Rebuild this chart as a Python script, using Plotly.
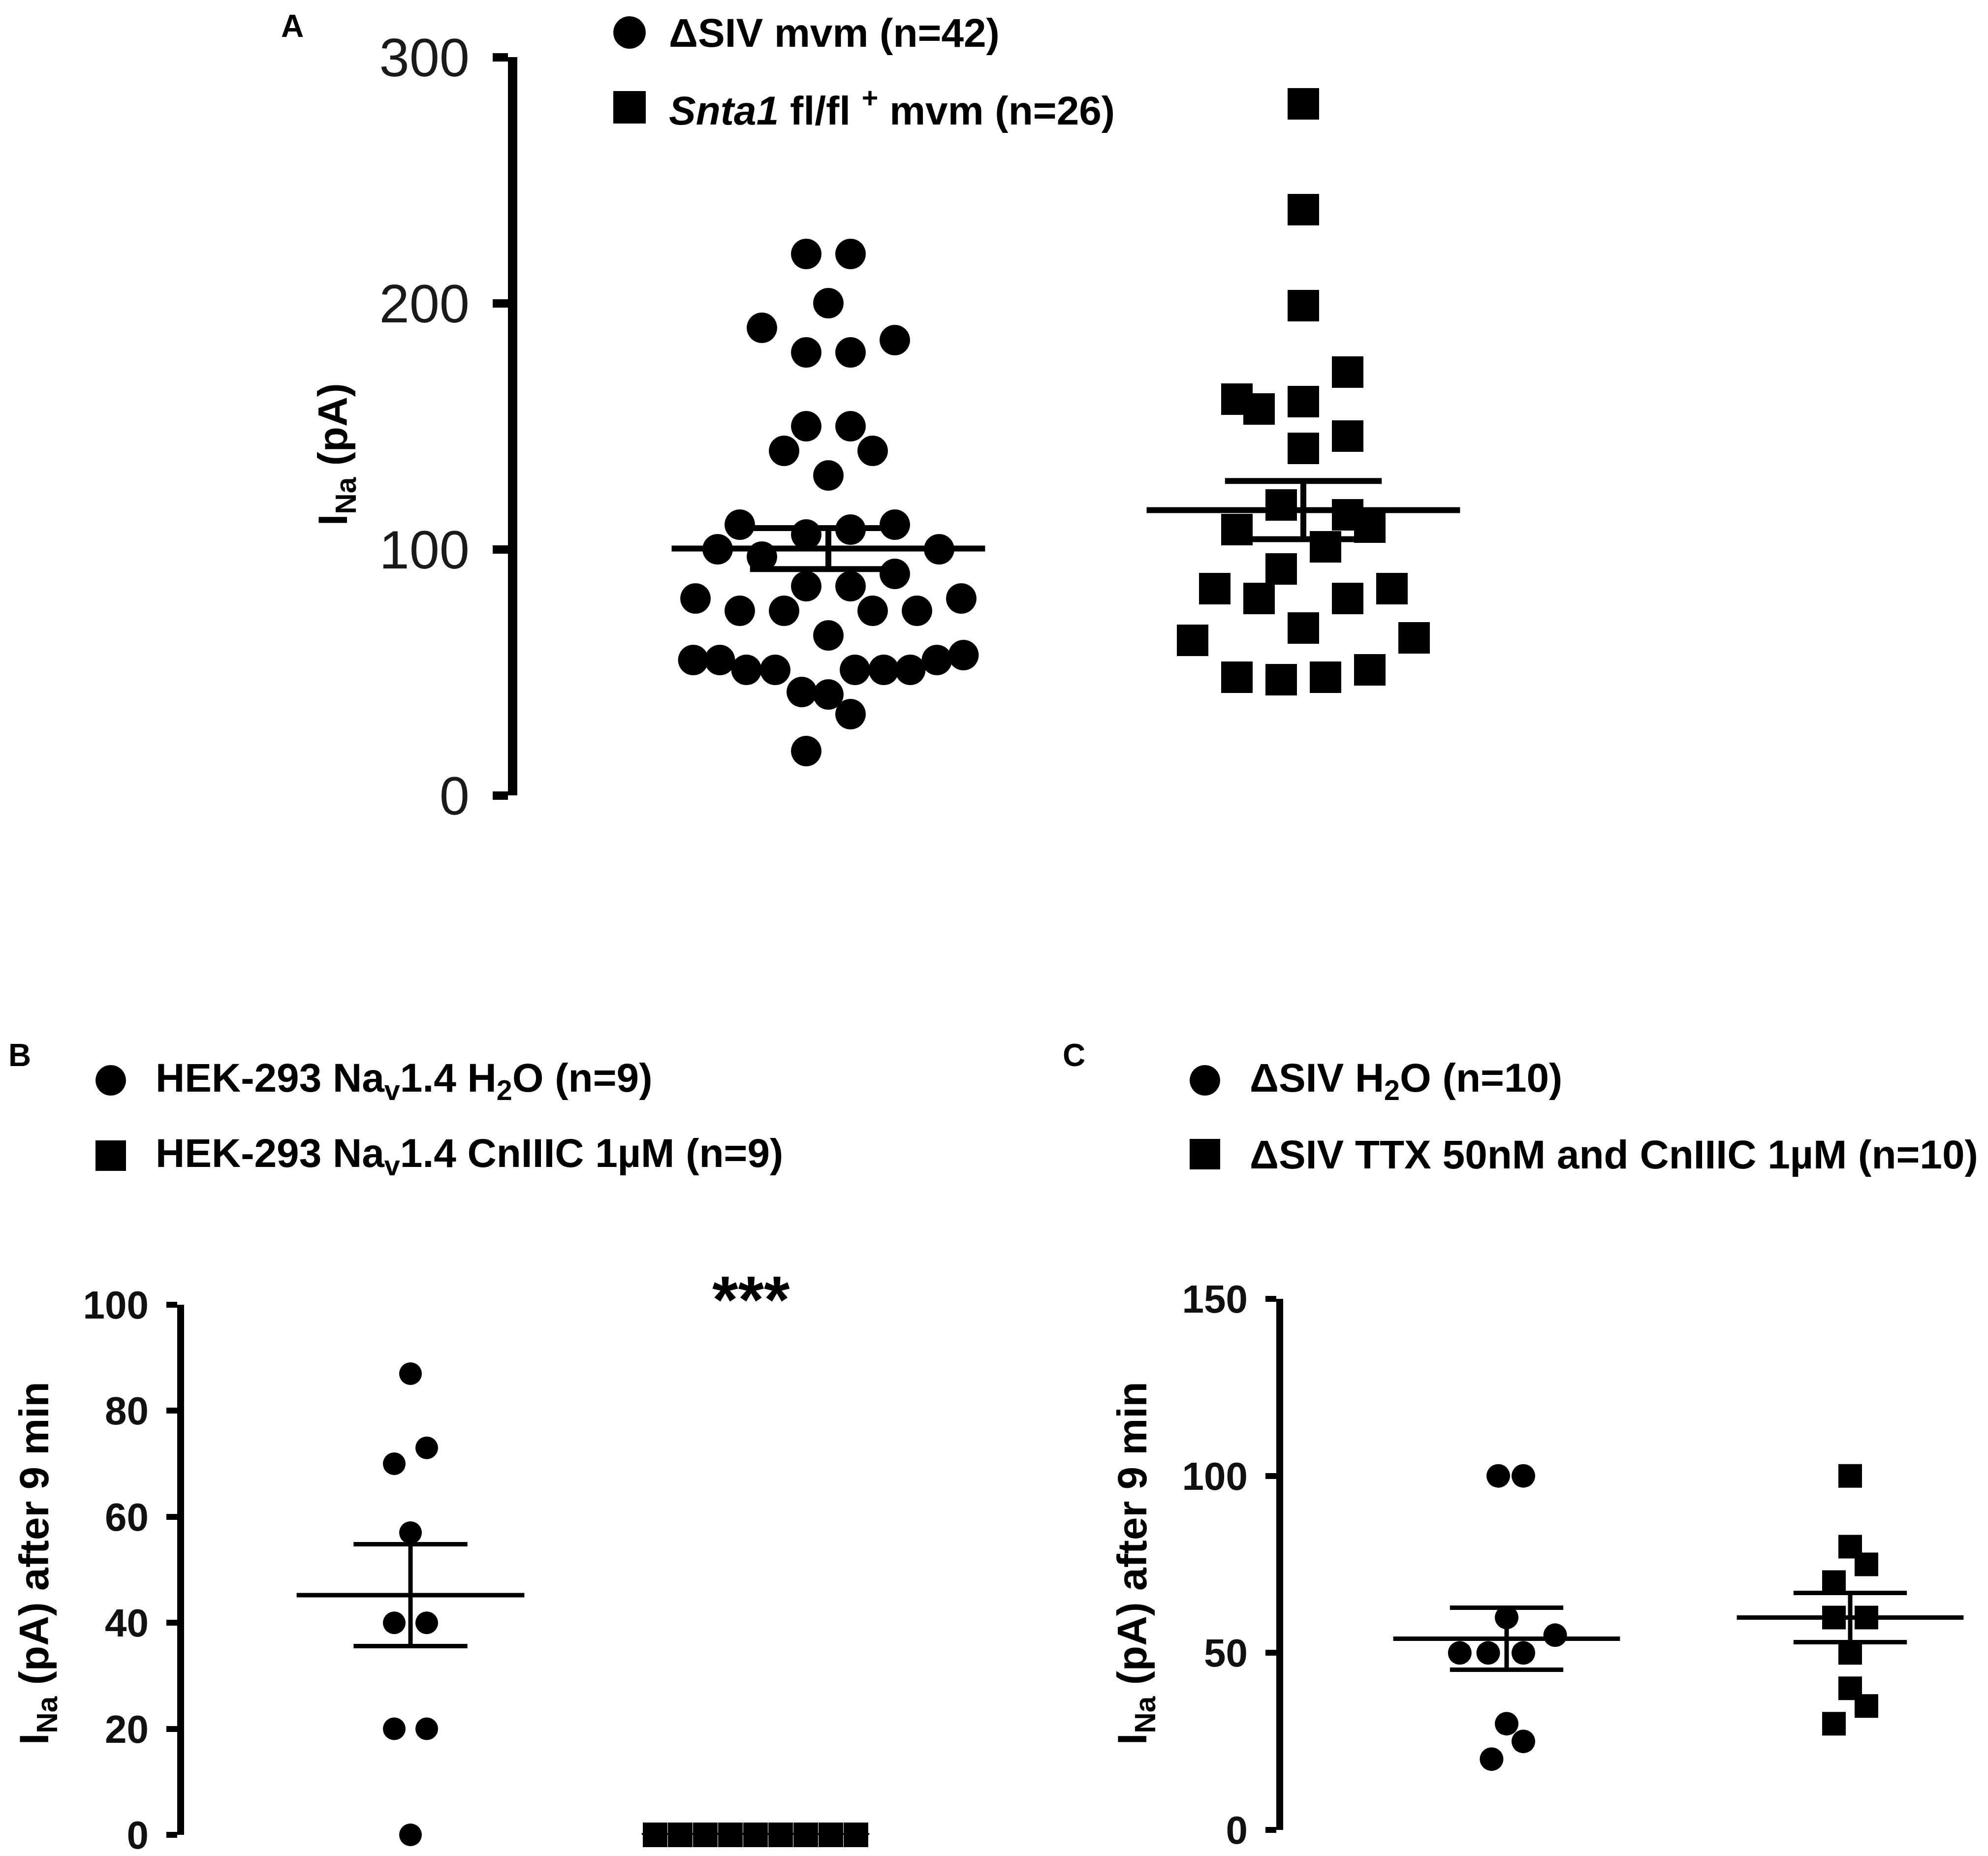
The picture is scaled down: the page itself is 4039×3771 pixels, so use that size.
import numpy as np
import plotly.graph_objects as go

W, H = 4039, 3771
FONT = "Liberation Sans, Arial, sans-serif"

# ---- data -------------------------------------------------------------
# Panel A: INa (pA); offsets are the scatter jitter in marker steps
A_CIRCLE_VALUES = [220, 220, 200, 190, 185, 180, 180, 150, 150, 140, 140, 130,
                   110, 110, 106, 108, 100, 100, 97, 90, 85, 85, 80, 80,
                   75, 75, 75, 75, 65, 55, 55, 55, 57, 51, 51, 51, 51, 51,
                   42, 41, 33, 18]
A_CIRCLE_OFFSETS = [-1, 1, 0, -3, 3, -1, 1, -1, 1, -2, 2, 0,
                    -4, 3, -1, 1, -5, 5, -3, 3, -1, 1, -6, 6,
                    -4, -2, 2, 4, 0, -6.1, -4.9, 4.9, 6.1, -3.7, -2.4, 1.2, 2.5, 3.7,
                    -1.2, 0, 1, -1]
A_SQUARE_VALUES = [281, 238, 199, 172, 161, 157, 160, 146, 141, 118, 114, 109, 108,
                   101, 92, 84, 84, 80, 80, 68, 63, 64, 48, 48, 47, 51]
A_SQUARE_OFFSETS = [0, 0, 0, 2, -3, -2, 0, 2, 0, -1, 2, 3, -3,
                    1, -1, -4, 4, -2, 2, 0, -5, 5, -3, 1, -1, 3]

# Panel B: INa (pA) after 9 min
B_CIRCLE_VALUES = [87, 73, 70, 57, 40, 40, 20, 20, 0]
B_CIRCLE_OFFSETS = [0, 1, -1, 0, -1, 1, -1, 1, 0]
B_SQUARE_VALUES = [0, 0, 0, 0, 0, 0, 0, 0, 0]
B_SQUARE_OFFSETS = [-4, -3, -2, -1, 0, 1, 2, 3, 4]

# Panel C: INa (pA) after 9 min
C_CIRCLE_VALUES = [100, 100, 60, 55, 50, 50, 50, 30, 25, 20]
C_CIRCLE_OFFSETS = [-0.5, 1, 0, 2.9, -2.8, -1.1, 1, 0, 1, -0.9]
C_SQUARE_VALUES = [100, 80, 75, 70, 60, 60, 50, 40, 35, 30]
C_SQUARE_OFFSETS = [0, 0, 1, -1, -1, 1, 0, 0, 1, -1]

A_TICKS = [0, 100, 200, 300]
B_TICKS = [0, 20, 40, 60, 80, 100]
C_TICKS = [0, 50, 100, 150]

A_LEGEND = ["ΔSIV mvm (n=42)", "<i>Snta1</i> fl/fl <sup>+</sup> mvm (n=26)"]
B_LEGEND = ["HEK-293 Na<sub>v</sub>1.4 H<sub>2</sub>O (n=9)",
            "HEK-293 Na<sub>v</sub>1.4 CnIIIC 1µM (n=9)"]
C_LEGEND = ["ΔSIV H<sub>2</sub>O (n=10)",
            "ΔSIV TTX 50nM and CnIIIC 1µM (n=10)"]


def fx(px):
    return px / W


def fy(py):
    return 1 - py / H


def x_range(axis_px, pos1_px, pos2_px, right_px):
    unit = pos2_px - pos1_px
    return [1 - (pos1_px - axis_px) / unit, 2 + (right_px - pos2_px) / unit]


def mean_sem_trace(values, pos, xa, ya, width):
    v = np.asarray(values, dtype=float)
    m = v.mean()
    s = v.std(ddof=1) / np.sqrt(len(v)) if len(v) > 1 else 0.0
    half, cap = 0.33, 0.165
    xs = [pos - half, pos + half, None,
          pos, pos, None,
          pos - cap, pos + cap, None,
          pos - cap, pos + cap]
    ys = [m, m, None,
          m - s, m + s, None,
          m + s, m + s, None,
          m - s, m - s]
    return go.Scatter(x=xs, y=ys, mode="lines", xaxis=xa, yaxis=ya,
                      line=dict(color="black", width=width),
                      hoverinfo="skip", showlegend=False, cliponaxis=False)


def points_trace(values, offsets, pos, step, symbol, size, xa, ya):
    xs = [pos + o * step for o in offsets]
    return go.Scatter(x=xs, y=values, mode="markers", xaxis=xa, yaxis=ya,
                      marker=dict(symbol=symbol, size=size, color="black",
                                  line=dict(width=0)),
                      showlegend=False, cliponaxis=False)


fig = go.Figure()

# panel A: columns at 1675 px and 2640 px, jitter step 45 px
unit_a = 2640 - 1675
fig.add_trace(points_trace(A_CIRCLE_VALUES, A_CIRCLE_OFFSETS, 1, 45 / unit_a, "circle", 62, "x", "y"))
fig.add_trace(points_trace(A_SQUARE_VALUES, A_SQUARE_OFFSETS, 2, 45 / unit_a, "square", 64, "x", "y"))
fig.add_trace(mean_sem_trace(A_CIRCLE_VALUES, 1, "x", "y", 12))
fig.add_trace(mean_sem_trace(A_SQUARE_VALUES, 2, "x", "y", 12))

# panel B: columns at 826 px and 1527 px
unit_b = 1527 - 826
fig.add_trace(points_trace(B_CIRCLE_VALUES, B_CIRCLE_OFFSETS, 1, 33 / unit_b, "circle", 46, "x2", "y2"))
fig.add_trace(points_trace(B_SQUARE_VALUES, B_SQUARE_OFFSETS, 2, 51 / unit_b, "square", 50, "x2", "y2"))
fig.add_trace(mean_sem_trace(B_CIRCLE_VALUES, 1, "x2", "y2", 9))
fig.add_trace(mean_sem_trace(B_SQUARE_VALUES, 2, "x2", "y2", 7))

# panel C: columns at 3053 px and 3751 px
unit_c = 3751 - 3053
fig.add_trace(points_trace(C_CIRCLE_VALUES, C_CIRCLE_OFFSETS, 1, 34 / unit_c, "circle", 48, "x3", "y3"))
fig.add_trace(points_trace(C_SQUARE_VALUES, C_SQUARE_OFFSETS, 2, 33 / unit_c, "square", 48, "x3", "y3"))
fig.add_trace(mean_sem_trace(C_CIRCLE_VALUES, 1, "x3", "y3", 9))
fig.add_trace(mean_sem_trace(C_SQUARE_VALUES, 2, "x3", "y3", 9))


def y_axis(anchor, domain, rng, ticks, lw, tlen, tw, font, standoff):
    return dict(anchor=anchor, domain=domain, range=rng, tickvals=ticks,
                showline=True, linecolor="black", linewidth=lw,
                ticks="outside", ticklen=tlen, tickwidth=tw, tickcolor="black",
                tickfont=font, ticklabelstandoff=standoff,
                ticklabeloverflow="allow",
                showgrid=False, zeroline=False, automargin=False,
                fixedrange=True)


def x_axis(anchor, domain, rng):
    return dict(anchor=anchor, domain=domain, range=rng, visible=False,
                showgrid=False, zeroline=False, automargin=False, fixedrange=True)


tick_a = dict(family=FONT, size=110, color="#1a1a1a")
tick_bc = dict(family=FONT, size=80, color="#111111", weight="bold")

fig.update_layout(
    width=W, height=H,
    margin=dict(l=0, r=0, t=0, b=0, autoexpand=False),
    paper_bgcolor="white", plot_bgcolor="white",
    showlegend=False,
    xaxis=x_axis("y", [fx(1043), fx(3200)], x_range(1043, 1675, 2640, 3200)),
    yaxis=y_axis("x", [fy(1608), fy(108)], [0, 300], A_TICKS, 19, 31, 17, tick_a, 25),
    xaxis2=x_axis("y2", [fx(366), fx(2050)], x_range(366, 826, 1527, 2050)),
    yaxis2=y_axis("x2", [fy(3720), fy(2643)], [0, 100], B_TICKS, 14, 22, 12, tick_bc, 20),
    xaxis3=x_axis("y3", [fx(2599), 1.0], x_range(2599, 3053, 3751, W)),
    yaxis3=y_axis("x3", [fy(3710), fy(2631)], [0, 150], C_TICKS, 14, 22, 12, tick_bc, 20),
)

annotations = []
shapes = []


def text(s, x, y, size, xanchor="left", angle=0):
    annotations.append(dict(text=s, x=fx(x), y=fy(y), xref="paper", yref="paper",
                            xanchor=xanchor, yanchor="middle", showarrow=False,
                            textangle=angle,
                            font=dict(family=FONT, size=size, color="black", weight="bold")))


def legend(labels, mx, ys, tx, size, msize):
    r = msize / 2
    for i, (label, yy) in enumerate(zip(labels, ys)):
        shapes.append(dict(type="circle" if i == 0 else "rect",
                           xref="paper", yref="paper",
                           xsizemode="pixel", ysizemode="pixel",
                           xanchor=fx(mx), yanchor=fy(yy),
                           x0=-r, x1=r, y0=-r, y1=r,
                           fillcolor="black", line=dict(width=0)))
        text(label, tx, yy, size)


legend(A_LEGEND, 1271, [58, 210], 1349, 82, 66)
legend(B_LEGEND, 217, [2187, 2340], 306, 82, 62)
legend(C_LEGEND, 2440, [2187, 2337], 2529, 82, 62)

text("A", 586, 45, 64, "center")
text("B", 32, 2136, 64, "center")
text("C", 2174, 2136, 64, "center")

text("I<sub>Na</sub> (pA)", 674, 915, 84, "center", -90)
text("I<sub>Na</sub> (pA) after 9 min", 67, 3168, 84, "center", -90)
text("I<sub>Na</sub> (pA) after 9 min", 2298, 3168, 84, "center", -90)

text("***", 1518, 2632, 135, "center")

fig.update_layout(annotations=annotations, shapes=shapes)

fig.write_html("out.html")
